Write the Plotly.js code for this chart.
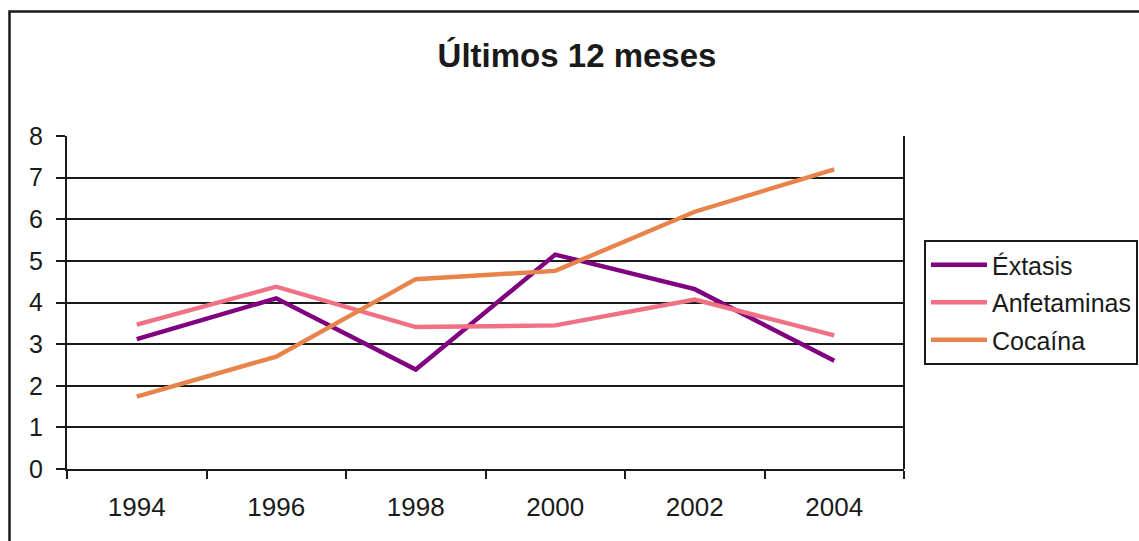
<!DOCTYPE html>
<html>
<head>
<meta charset="utf-8">
<script src="https://cdn.plot.ly/plotly-3.0.1.min.js"></script>
<style>
  html, body { margin: 0; padding: 0; background: #fff; }
  #chart { width: 1139px; height: 541px; }
</style>
</head>
<body>
<div id="chart"></div>
<script>
// Survey years (category axis)
const years = ['1994', '1996', '1998', '2000', '2002', '2004'];

// Prevalence over the last 12 months (%)
const extasis     = [3.12, 4.1, 2.39, 5.15, 4.32, 2.6];
const anfetaminas = [3.47, 4.38, 3.41, 3.45, 4.07, 3.21];
const cocaina     = [1.74, 2.7, 4.56, 4.76, 6.18, 7.2];

const seriesNames  = ['Éxtasis', 'Anfetaminas', 'Cocaína'];
const seriesColors = ['#800080', '#F07084', '#E8834B'];
const yTicks = [0, 1, 2, 3, 4, 5, 6, 7, 8];

const titleText = 'Últimos 12 meses';

const FONT = 'Liberation Sans, Arial, Helvetica, sans-serif';

// Plot area geometry (pixels)
const W = 1139, H = 541;
const M = { l: 67, r: 235, t: 136, b: 72, autoexpand: false };
const PW = W - M.l - M.r;
const PH = H - M.t - M.b;
const px2x = v => (v - M.l) / PW;
const px2y = v => (H - M.b - v) / PH;

const values = [extasis, anfetaminas, cocaina];
const traces = values.map((vals, i) => ({
  type: 'scatter',
  mode: 'lines',
  x: years,
  y: vals,
  name: seriesNames[i],
  legendgroup: 'g' + i,
  line: { color: seriesColors[i], width: 4.4 },
  hoverinfo: 'x+y+name'
}));

const layout = {
  width: W,
  height: H,
  margin: M,
  paper_bgcolor: '#ffffff',
  plot_bgcolor: '#ffffff',
  font: { family: FONT, color: '#1a1a1a', size: 25 },
  showlegend: true,
  title: {
    text: titleText,
    font: { family: FONT, size: 33, color: '#1a1a1a', weight: 'bold' },
    xref: 'container', yref: 'container',
    x: 577 / W, xanchor: 'center',
    y: 1 - 55 / H, yanchor: 'middle'
  },
  xaxis: {
    type: 'category',
    categoryarray: years,
    range: [-0.5, years.length - 0.5],
    tickson: 'boundaries',
    ticks: 'outside',
    ticklen: 8,
    tickwidth: 2,
    tickcolor: '#1a1a1a',
    showgrid: false,
    showline: true,
    linecolor: '#1a1a1a',
    linewidth: 2,
    mirror: false,
    ticklabelstandoff: 14,
    tickfont: { family: FONT, size: 26, color: '#1a1a1a' },
    zeroline: false,
    fixedrange: true
  },
  yaxis: {
    range: [0, 8],
    tickvals: yTicks,
    ticktext: yTicks.map(String),
    ticks: 'outside',
    ticklen: 9,
    tickwidth: 2,
    tickcolor: '#1a1a1a',
    showgrid: true,
    gridcolor: '#1a1a1a',
    gridwidth: 2,
    showline: true,
    linecolor: '#1a1a1a',
    linewidth: 2,
    ticklabelstandoff: 8,
    tickfont: { family: FONT, size: 25, color: '#1a1a1a' },
    zeroline: false,
    fixedrange: true
  },
  legend: {
    x: px2x(924), xanchor: 'left',
    y: px2y(240), yanchor: 'top',
    xref: 'paper', yref: 'paper',
    bgcolor: '#ffffff',
    bordercolor: '#1a1a1a',
    borderwidth: 2,
    font: { family: FONT, size: 25, color: '#1a1a1a' },
    traceorder: 'grouped',
    tracegroupgap: 2,
    itemwidth: 56
  },
  shapes: [
    // right border of the plot area
    { type: 'line', xref: 'paper', yref: 'paper', x0: 1, x1: 1, y0: 0, y1: 1,
      line: { color: '#1a1a1a', width: 2 }, layer: 'above' },
    // outer chart frame
    { type: 'rect', xref: 'paper', yref: 'paper',
      x0: px2x(9.5), x1: px2x(1160), y0: px2y(570), y1: px2y(11.5),
      line: { color: '#1a1a1a', width: 2.5 }, fillcolor: 'rgba(0,0,0,0)', layer: 'below' }
  ]
};

Plotly.newPlot('chart', traces, layout, { displayModeBar: false, staticPlot: true });
</script>
</body>
</html>
